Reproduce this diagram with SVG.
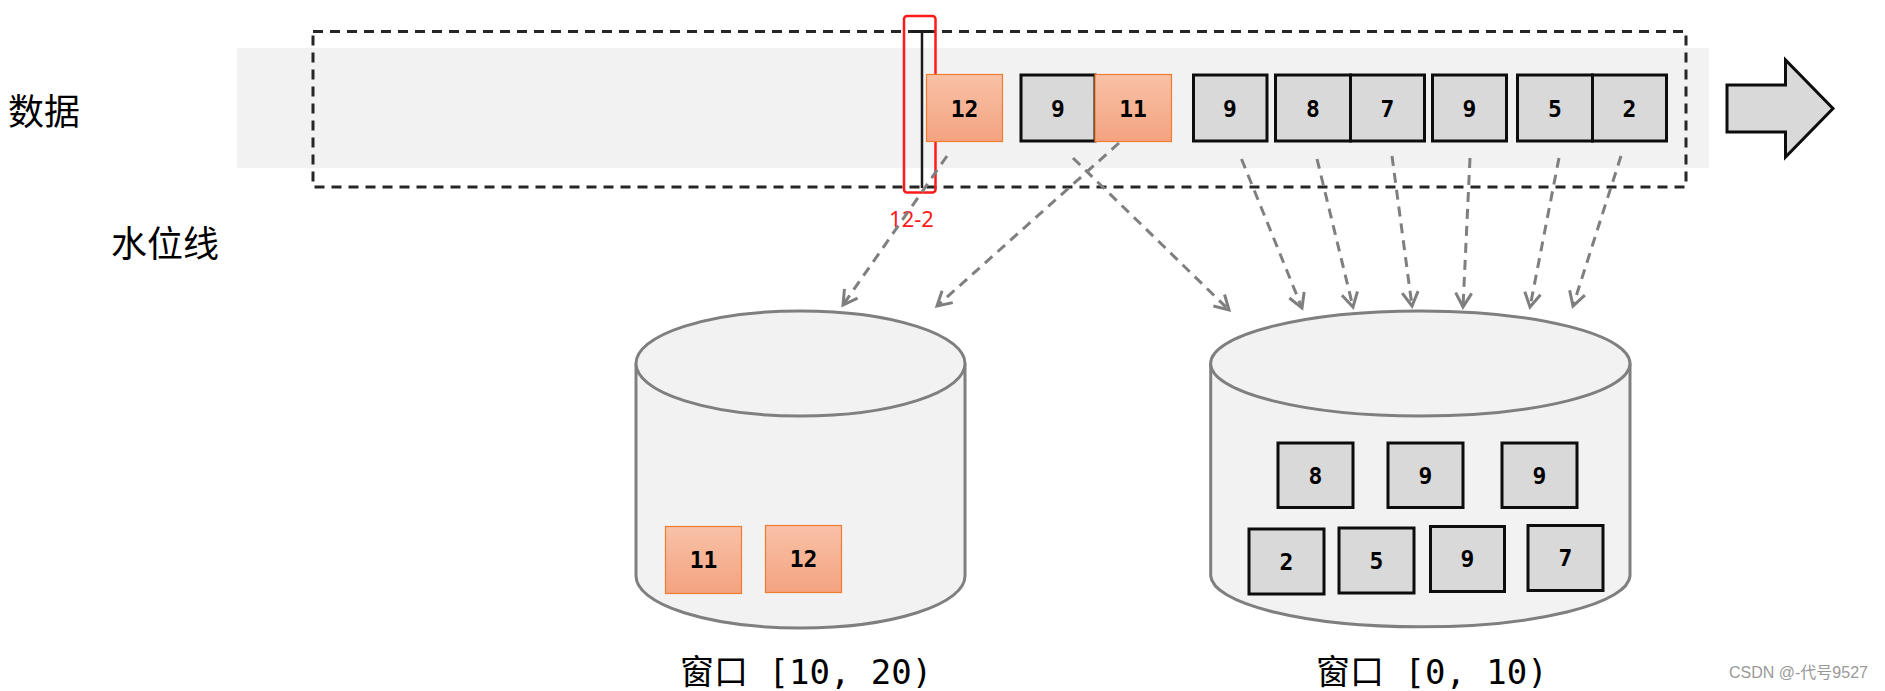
<svg xmlns="http://www.w3.org/2000/svg" width="1885" height="691" viewBox="0 0 1885 691">
<defs>
<linearGradient id="org" x1="0" y1="0" x2="0" y2="1">
<stop offset="0" stop-color="#f8c1a7"/>
<stop offset="1" stop-color="#f4a380"/>
</linearGradient>
<marker id="arr" markerUnits="userSpaceOnUse" viewBox="0 0 20 20" refX="17" refY="10" markerWidth="20" markerHeight="20" orient="auto">
<path d="M3,2 L17,10 L3,18" fill="none" stroke="#7f7f7f" stroke-width="3"/>
</marker>
</defs>
<style>
.gb{fill:#d9d9d9;stroke:#0d0d0d;stroke-width:3}
.ob{fill:url(#org);stroke:#ed7d31;stroke-width:1.2}
.num{font-family:"DejaVu Sans Mono",monospace;font-weight:bold;font-size:23px;text-anchor:middle;fill:#000}
.cyl{fill:#f2f2f2;stroke:#7f7f7f;stroke-width:3}
.con{stroke:#7f7f7f;stroke-width:3;stroke-dasharray:10 7;fill:none;marker-end:url(#arr)}
.lab{font-family:"Noto Sans CJK SC",sans-serif;font-size:36px;fill:#000}
.win{font-family:"DejaVu Sans Mono","Noto Sans CJK SC",monospace;font-size:34px;fill:#000}
</style>
<rect width="1885" height="691" fill="#fff"/>

<g id="band">
<rect x="237" y="48" width="1472" height="120" fill="#f2f2f2"/>
<rect x="313" y="31.5" width="1373" height="155.5" fill="none" stroke="#262626" stroke-width="3" stroke-dasharray="10 7"/>
</g>

<g id="label-data"><text class="lab" x="8" y="125">数据</text></g>
<g id="label-watermark"><text class="lab" x="111" y="257">水位线</text></g>

<g id="watermark-line">
<line x1="922" y1="31.5" x2="922" y2="188" stroke="#1a1a1a" stroke-width="2.5"/>
<line x1="911" y1="31.5" x2="932" y2="31.5" stroke="#1a1a1a" stroke-width="3"/>
<rect x="904" y="16" width="31.5" height="176.5" rx="3" fill="none" stroke="#ff1a1a" stroke-width="2.5"/>
<text x="911.5" y="226.5" font-family="Noto Sans, sans-serif" font-size="22" fill="#ff1a1a" text-anchor="middle">12-2</text>
</g>

<g id="e12"><rect class="ob" x="926.5" y="74.5" width="76" height="67"/><text class="num" x="964.5" y="116.5">12</text></g>
<g id="e9a"><rect class="gb" x="1021" y="75" width="74" height="66"/><text class="num" x="1058" y="116.5">9</text></g>
<g id="e11"><rect class="ob" x="1095" y="74.5" width="76.5" height="67"/><text class="num" x="1133" y="116.5">11</text></g>
<g id="e9b"><rect class="gb" x="1193.5" y="75" width="73.5" height="66"/><text class="num" x="1230" y="116.5">9</text></g>
<g id="e8"><rect class="gb" x="1275.5" y="75" width="75" height="66"/><text class="num" x="1313" y="116.5">8</text></g>
<g id="e7"><rect class="gb" x="1350.5" y="75" width="74" height="66"/><text class="num" x="1387.5" y="116.5">7</text></g>
<g id="e9c"><rect class="gb" x="1432.5" y="75" width="74" height="66"/><text class="num" x="1469.5" y="116.5">9</text></g>
<g id="e5"><rect class="gb" x="1517.5" y="75" width="75" height="66"/><text class="num" x="1555" y="116.5">5</text></g>
<g id="e2"><rect class="gb" x="1592.5" y="75" width="74" height="66"/><text class="num" x="1629.5" y="116.5">2</text></g>

<g id="arrow-out">
<path d="M1727,85 L1785.5,85 L1785.5,60 L1833,108.5 L1785.5,157 L1785.5,132 L1727,132 Z" fill="#d9d9d9" stroke="#0d0d0d" stroke-width="3" stroke-linejoin="miter"/>
</g>

<g id="window-10-20">
<path class="cyl" d="M636,363.5 L636,576 A164.5,52 0 0 0 965,576 L965,363.5"/>
<ellipse class="cyl" cx="800.5" cy="363.5" rx="164.5" ry="52.5"/>
<rect class="ob" x="665.5" y="526.5" width="76" height="67"/><text class="num" x="703.5" y="568">11</text>
<rect class="ob" x="765.5" y="525.5" width="76" height="67"/><text class="num" x="803.5" y="567">12</text>
<text class="win" x="680" y="684">窗口 [10, 20)</text>
</g>

<g id="window-0-10">
<path class="cyl" d="M1210.7,363.5 L1210.7,576 A209.7,52 0 0 0 1630,576 L1630,363.5"/>
<ellipse class="cyl" cx="1420.3" cy="363.5" rx="209.7" ry="52.5"/>
<rect class="gb" x="1278" y="443" width="75" height="64.5"/><text class="num" x="1315.5" y="483.5">8</text>
<rect class="gb" x="1388" y="443" width="75" height="64.5"/><text class="num" x="1425.5" y="483.5">9</text>
<rect class="gb" x="1502" y="443" width="75" height="64.5"/><text class="num" x="1539.5" y="483.5">9</text>
<rect class="gb" x="1249" y="529" width="75" height="65"/><text class="num" x="1286.5" y="570">2</text>
<rect class="gb" x="1339" y="528" width="75" height="65"/><text class="num" x="1376.5" y="569">5</text>
<rect class="gb" x="1430.5" y="526.5" width="74" height="65"/><text class="num" x="1467.5" y="567">9</text>
<rect class="gb" x="1528" y="525.5" width="75" height="65"/><text class="num" x="1565.5" y="566">7</text>
<text class="win" x="1316" y="684">窗口 [0, 10)</text>
</g>

<g id="connectors">
<line class="con" x1="947" y1="156" x2="843" y2="305"/>
<line class="con" x1="1119" y1="143" x2="937" y2="306"/>
<line class="con" x1="1073" y1="158" x2="1229" y2="310"/>
<line class="con" x1="1241.5" y1="159" x2="1302" y2="308"/>
<line class="con" x1="1317" y1="159" x2="1353" y2="307"/>
<line class="con" x1="1392" y1="156" x2="1412" y2="306"/>
<line class="con" x1="1470" y1="158" x2="1463" y2="307"/>
<line class="con" x1="1559" y1="158" x2="1530" y2="307"/>
<line class="con" x1="1621" y1="156" x2="1573" y2="306"/>
</g>

<g id="csdn"><text x="1729" y="678" font-family="Liberation Sans, Noto Sans CJK SC, sans-serif" font-size="16" fill="#999999">CSDN @-代号9527</text></g>
</svg>
